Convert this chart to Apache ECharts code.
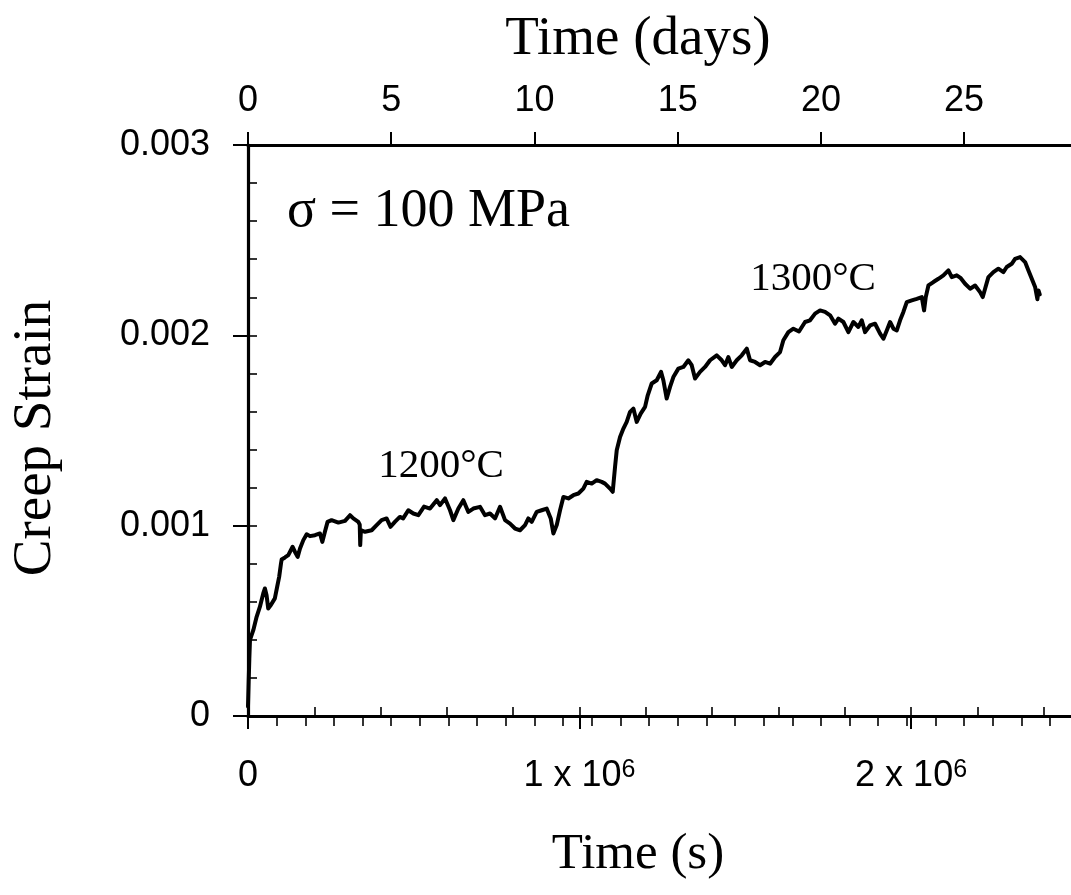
<!DOCTYPE html>
<html>
<head>
<meta charset="utf-8">
<script src="https://cdn.jsdelivr.net/npm/echarts@6/dist/echarts.min.js"></script>
<style>
  html, body { margin: 0; padding: 0; background: #fff; }
  #chart { width: 1071px; height: 895px; }
</style>
</head>
<body>
<div id="chart"></div>
<script>
// Creep test record: time in seconds and measured creep strain
const timeSec = [
  0, 2000, 4000, 6000, 16000, 26000, 36000, 46000, 51000, 56000, 61000, 69000, 81000, 88000, 94000,
  99500, 101500, 111500, 121500, 134600, 141800, 149800, 156900, 166900, 177000, 187000, 202000,
  217000, 224300, 232000, 240000, 252000, 272600, 292600, 307700, 317700, 332700, 337000, 338500,
  340500, 353000, 373000, 388000, 403000, 418000, 430000, 443000, 458000, 468000, 483500, 498700,
  513800, 531000, 549000, 569200, 579200, 594300, 609400, 619400, 634500, 649500, 664600, 679700,
  699800, 714900, 730000, 745100, 760200, 775300, 790300, 805400, 820500, 835600, 845600, 855700,
  870800, 885800, 900900, 913100, 921100, 931200, 941200, 951300, 966300, 981400, 996500, 1011500,
  1021600, 1036700, 1051700, 1066800, 1076900, 1092000, 1100100, 1107100, 1112200, 1122200, 1132300,
  1142300, 1152300, 1162400, 1172500, 1184500, 1197600, 1205700, 1217700, 1232800, 1245800, 1252800,
  1262900, 1273000, 1283000, 1298100, 1313200, 1328200, 1338300, 1348400, 1363500, 1378600, 1393700,
  1413800, 1428900, 1438900, 1448900, 1459100, 1474200, 1489300, 1504400, 1514300, 1529400, 1544500,
  1559600, 1574700, 1589700, 1604800, 1614800, 1629900, 1645000, 1662000, 1680200, 1695300, 1710400,
  1725500, 1740600, 1755700, 1770700, 1780800, 1795800, 1810900, 1826000, 1841100, 1851200, 1861200,
  1876300, 1891400, 1906500, 1916600, 1926700, 1936700, 1946800, 1956900, 1966800, 1976800, 1987000,
  2002100, 2017200, 2032300, 2039200, 2044300, 2052300, 2067300, 2082400, 2097500, 2112600, 2122700,
  2137700, 2150000, 2162900, 2178000, 2193100, 2208100, 2216200, 2223200, 2233200, 2248300, 2263300,
  2278400, 2288500, 2303600, 2313700, 2328800, 2343900, 2354000, 2364100, 2374100, 2381000, 2384200,
  2388000
];
const creepStrain = [
  0.00005, 0.00018, 0.00030, 0.00040, 0.000451, 0.000521, 0.000574, 0.000644, 0.000670, 0.000635, 0.000565, 0.000583, 0.000618, 0.000679, 0.000731,
  0.000801, 0.000822, 0.000833, 0.000845, 0.000889, 0.000862, 0.000836, 0.000880, 0.000924, 0.000955, 0.000945, 0.000950,
  0.000959, 0.000915, 0.000968, 0.001020, 0.001029, 0.001016, 0.001025, 0.001055, 0.001038, 0.001020, 0.001005, 0.000898,
  0.000976, 0.000968, 0.000976, 0.001003, 0.001029, 0.001038, 0.000994, 0.001020, 0.001046, 0.001038, 0.001081, 0.001064,
  0.001055, 0.001100, 0.001090, 0.001134, 0.001108, 0.001143, 0.001081, 0.001029, 0.001090, 0.001134, 0.001072, 0.001090,
  0.001099, 0.001055, 0.001064, 0.001038, 0.001099, 0.001029, 0.001011, 0.000985, 0.000976, 0.001003, 0.001038, 0.001020,
  0.001072, 0.001081, 0.001090, 0.001038, 0.000959, 0.001003, 0.001081, 0.001151, 0.001143, 0.001160, 0.001169, 0.001195,
  0.001230, 0.001221, 0.001239, 0.001230, 0.001221, 0.001195, 0.001178, 0.001309, 0.001396, 0.001466, 0.001510,
  0.001545, 0.001598, 0.001615, 0.001545, 0.001589, 0.001624, 0.001685, 0.001747, 0.001764, 0.001808, 0.001764,
  0.001668, 0.001729, 0.001781, 0.001825, 0.001834, 0.001869, 0.001843, 0.001773, 0.001808, 0.001834, 0.001869,
  0.001895, 0.001869, 0.001843, 0.001886, 0.001834, 0.001869, 0.001895, 0.001930, 0.001869, 0.001860, 0.001843,
  0.001860, 0.001851, 0.001886, 0.001912, 0.001974, 0.002017, 0.002035, 0.002020, 0.002070, 0.002079, 0.002114,
  0.002131, 0.002123, 0.002105, 0.002061, 0.002088, 0.002070, 0.002017, 0.002070, 0.002044, 0.002079, 0.002017,
  0.002052, 0.002061, 0.002009, 0.001982, 0.002026, 0.002070, 0.002035, 0.002026, 0.002079, 0.002123, 0.002175,
  0.002184, 0.002192, 0.002201, 0.002131, 0.002201, 0.002262, 0.002280, 0.002297, 0.002315, 0.002341, 0.002306,
  0.002315, 0.002300, 0.002271, 0.002245, 0.002262, 0.002227, 0.002201, 0.002245, 0.002306, 0.002332, 0.002350,
  0.002332, 0.002359, 0.002376, 0.002402, 0.002411, 0.002385, 0.002341, 0.002297, 0.002254, 0.002190, 0.002236,
  0.002215
];

// Axis ticks and labels
const strainTicks = [0, 0.001, 0.002, 0.003];
const strainTickLabels = ['0', '0.001', '0.002', '0.003'];
const secondsTickLabels = ['0', '1 x 10', '2 x 10'];   // mantissa part; exponent drawn as superscript
const secondsExponent = '6';
const dayTickStep = 5;
const SEC_PER_DAY = 86400;

const SANS = '"Liberation Sans", Arial, Helvetica, sans-serif';
const SERIF = '"Liberation Serif", "Times New Roman", Times, serif';
const BLACK = '#000';

const X_MAX = 2.6e6;

const seriesData = timeSec.map((t, i) => [t, creepStrain[i]]);

const thickLine = { show: true, onZero: false, lineStyle: { color: BLACK, width: 3.2 } };
const noLine = { show: false };
const tickLabelStyle = { color: BLACK, fontFamily: SANS, fontSize: 36 };

function outerTicks(len) {
  return { show: true, inside: false, length: len, lineStyle: { color: BLACK, width: 2 } };
}
function innerTicks(len) {
  return { show: true, inside: true, length: len, lineStyle: { color: BLACK, width: 1.6 } };
}

const chart = echarts.init(document.getElementById('chart'), null, { renderer: 'canvas' });

chart.setOption({
  animation: false,
  backgroundColor: '#fff',
  grid: {
    left: 248, top: 145, width: 862, height: 571,
    containLabel: false, outerBoundsMode: 'none'
  },
  xAxis: [
    { // seconds, major ticks and labels
      type: 'value', position: 'bottom', min: 0, max: X_MAX, interval: 1e6,
      axisLine: thickLine, axisTick: outerTicks(13), splitLine: { show: false },
      axisLabel: Object.assign({}, tickLabelStyle, {
        margin: 42, showMaxLabel: false,
        formatter: v => {
          const k = Math.round(v / 1e6);
          if (Math.abs(v - k * 1e6) > 1) return '';
          if (k === 0) return '{n|' + secondsTickLabels[0] + '}';
          return '{n|' + secondsTickLabels[k] + '}{e|' + secondsExponent + '}';
        },
        rich: {
          n: { fontFamily: SANS, fontSize: 36, color: BLACK },
          e: { fontFamily: SANS, fontSize: 25, color: BLACK, verticalAlign: 'top' }
        }
      })
    },
    { // seconds, minor ticks
      type: 'value', position: 'bottom', min: 0, max: X_MAX, interval: 2e5,
      axisLine: noLine, axisTick: innerTicks(9), axisLabel: { show: false }, splitLine: { show: false }
    },
    { // days, major ticks and labels
      type: 'value', position: 'top', min: 0, max: X_MAX, interval: dayTickStep * SEC_PER_DAY,
      axisLine: thickLine, axisTick: outerTicks(13), splitLine: { show: false },
      axisLabel: Object.assign({}, tickLabelStyle, {
        margin: 26, showMaxLabel: false,
        formatter: v => {
          const d = v / SEC_PER_DAY;
          return Math.abs(d - Math.round(d)) < 1e-6 ? String(Math.round(d)) : '';
        }
      })
    },
    { // days, minor ticks
      type: 'value', position: 'top', min: 0, max: X_MAX, interval: SEC_PER_DAY,
      axisLine: noLine, axisTick: innerTicks(10), axisLabel: { show: false }, splitLine: { show: false }
    }
  ],
  yAxis: [
    {
      type: 'value', position: 'left', min: 0, max: 0.003, interval: 0.001,
      axisLine: thickLine, axisTick: outerTicks(15), splitLine: { show: false },
      axisLabel: Object.assign({}, tickLabelStyle, {
        margin: 38,
        formatter: v => {
          const i = strainTicks.findIndex(s => Math.abs(s - v) < 1e-9);
          return i >= 0 ? strainTickLabels[i] : '';
        }
      })
    },
    {
      type: 'value', position: 'left', min: 0, max: 0.003, interval: 0.0002,
      axisLine: noLine, axisTick: innerTicks(9), axisLabel: { show: false }, splitLine: { show: false }
    }
  ],
  series: [{
    type: 'line',
    xAxisIndex: 0, yAxisIndex: 0,
    data: seriesData,
    showSymbol: false,
    symbol: 'none',
    lineStyle: { color: BLACK, width: 4, join: 'round', cap: 'round' },
    silent: true
  }],
  graphic: [
    { type: 'text', x: 638, y: 40,
      style: { text: 'Time (days)', font: '55px ' + SERIF, fill: BLACK, align: 'center', verticalAlign: 'middle' } },
    { type: 'text', x: 638, y: 855,
      style: { text: 'Time (s)', font: '51px ' + SERIF, fill: BLACK, align: 'center', verticalAlign: 'middle' } },
    { type: 'text', x: 36, y: 438, rotation: Math.PI / 2,
      style: { text: 'Creep Strain', font: '55px ' + SERIF, fill: BLACK, align: 'center', verticalAlign: 'middle' } },
    { type: 'text', x: 287, y: 212,
      style: { text: 'σ = 100 MPa', font: '54px ' + SERIF, fill: BLACK, align: 'left', verticalAlign: 'middle' } },
    { type: 'text', x: 441, y: 466,
      style: { text: '1200°C', font: '41px ' + SERIF, fill: BLACK, align: 'center', verticalAlign: 'middle' } },
    { type: 'text', x: 813, y: 279,
      style: { text: '1300°C', font: '41px ' + SERIF, fill: BLACK, align: 'center', verticalAlign: 'middle' } }
  ]
});
</script>
</body>
</html>
